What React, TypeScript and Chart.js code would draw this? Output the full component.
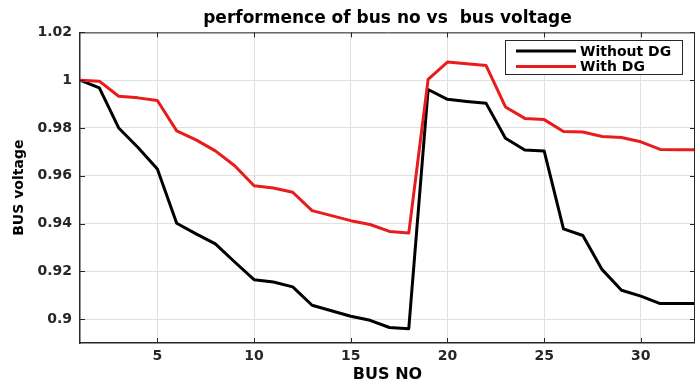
import React, { useEffect, useRef } from "react";
import { Chart, registerables } from "chart.js";

Chart.register(...registerables);

const BUS_NO = [1, 2, 3, 4, 5, 6, 7, 8, 9, 10, 11, 12, 13, 14, 15, 16, 17, 18, 19, 20, 21, 22, 23, 24, 25, 26, 27, 28, 29, 30, 31, 32, 33];
const WITHOUT_DG = [1.0, 0.9968, 0.98, 0.9718, 0.9628, 0.9401, 0.9357, 0.9315, 0.9239, 0.9165, 0.9155, 0.9135, 0.9058, 0.9035, 0.9012, 0.8995, 0.8965, 0.896, 0.9961, 0.992, 0.9911, 0.9903, 0.9757, 0.9708, 0.9704, 0.9378, 0.935, 0.9207, 0.9121, 0.9096, 0.9065, 0.9065, 0.9065];
const WITH_DG = [1.0, 0.9996, 0.9933, 0.9926, 0.9915, 0.9788, 0.975, 0.9704, 0.9642, 0.9558, 0.9549, 0.9531, 0.9454, 0.9433, 0.9412, 0.9396, 0.9367, 0.936, 1.0003, 1.0076, 1.0069, 1.0061, 0.9888, 0.984, 0.9835, 0.9785, 0.9783, 0.9764, 0.976, 0.9742, 0.971, 0.9709, 0.9709];
const X_TICKS = [5, 10, 15, 20, 25, 30];
const Y_TICKS = [0.9, 0.92, 0.94, 0.96, 0.98, 1, 1.02];
const SERIES_LABELS = ["Without DG", "With DG"];
const TITLE = "performence of bus no vs  bus voltage";
const X_TITLE = "BUS NO";
const Y_TITLE = "BUS voltage";

const FONT = "DejaVu Sans";
const AXIS_COLOR = "#262626";
const GRID_COLOR = "#e0e0e0";

const frameAndLegend = {
  id: "frameAndLegend",
  afterDatasetsDraw(chart: any) {
    const { ctx, chartArea: a, scales } = chart;
    const xs = scales.x;
    const ys = scales.y;
    ctx.save();
    ctx.strokeStyle = AXIS_COLOR;
    ctx.lineWidth = 1;
    ctx.beginPath();
    ctx.moveTo(a.left, a.top + 0.5);
    ctx.lineTo(a.right, a.top + 0.5);
    ctx.moveTo(a.right - 0.5, a.top);
    ctx.lineTo(a.right - 0.5, a.bottom);
    const TL = 5;
    for (const t of xs.ticks) {
      const px = Math.round(xs.getPixelForValue(t.value)) + 0.5;
      ctx.moveTo(px, a.bottom);
      ctx.lineTo(px, a.bottom - TL);
      ctx.moveTo(px, a.top);
      ctx.lineTo(px, a.top + TL);
    }
    for (const t of ys.ticks) {
      const py = Math.round(ys.getPixelForValue(t.value)) + 0.5;
      ctx.moveTo(a.left, py);
      ctx.lineTo(a.left + TL, py);
      ctx.moveTo(a.right, py);
      ctx.lineTo(a.right - TL, py);
    }
    ctx.stroke();

    // legend box
    const boxW = 177;
    const boxH = 34;
    const bx = Math.round(a.right - 13 - boxW);
    const by = Math.round(a.top + 8);
    ctx.fillStyle = "#ffffff";
    ctx.fillRect(bx, by, boxW, boxH);
    ctx.strokeStyle = AXIS_COLOR;
    ctx.lineWidth = 1;
    ctx.strokeRect(bx + 0.5, by + 0.5, boxW, boxH);
    ctx.font = `bold 14px "${FONT}"`;
    ctx.textBaseline = "middle";
    ctx.textAlign = "left";
    chart.data.datasets.forEach((ds: any, i: number) => {
      const y = by + 11 + i * 15.5;
      ctx.strokeStyle = ds.borderColor;
      ctx.lineWidth = 2.8;
      ctx.beginPath();
      ctx.moveTo(bx + 11, y);
      ctx.lineTo(bx + 71, y);
      ctx.stroke();
      ctx.fillStyle = "#000";
      ctx.fillText(ds.label, bx + 75, y + 1);
    });
    ctx.restore();
  },
};

export default function App() {
  const canvasRef = useRef<HTMLCanvasElement | null>(null);

  useEffect(() => {
    const canvas = canvasRef.current;
    if (!canvas) return;
    const chart = new Chart(canvas, {
      type: "line",
      data: {
        datasets: [
          {
            label: SERIES_LABELS[0],
            data: BUS_NO.map((x, i) => ({ x, y: WITHOUT_DG[i] })),
            borderColor: "#000000",
            backgroundColor: "#000000",
            borderWidth: 3,
            pointRadius: 0,
            tension: 0,
            borderJoinStyle: "round",
            order: 1,
          },
          {
            label: SERIES_LABELS[1],
            data: BUS_NO.map((x, i) => ({ x, y: WITH_DG[i] })),
            borderColor: "#e81c1c",
            backgroundColor: "#e81c1c",
            borderWidth: 3,
            pointRadius: 0,
            tension: 0,
            borderJoinStyle: "round",
            order: 0,
          },
        ],
      },
      options: {
        responsive: false,
        animation: false,
        devicePixelRatio: 1,
        layout: { padding: 0 },
        plugins: {
          legend: { display: false },
          tooltip: { enabled: false },
          title: {
            display: true,
            text: TITLE,
            color: "#000",
            fullSize: false,
            font: { family: FONT, size: 17, weight: "bold" },
            padding: { top: 8, bottom: 4 },
          },
        },
        scales: {
          x: {
            type: "linear",
            min: 1,
            max: 32.8,
            afterBuildTicks: (s: any) => {
              s.ticks = X_TICKS.map((v) => ({ value: v }));
            },
            afterFit: (s: any) => {
              s.height = 38;
            },
            ticks: {
              color: AXIS_COLOR,
              font: { family: FONT, size: 14, weight: "bold" },
              padding: 5,
              maxRotation: 0,
              callback: (v: any) => String(v),
            },
            grid: { color: GRID_COLOR, drawTicks: false, lineWidth: 1 },
            border: { color: AXIS_COLOR, width: 1.5 },
            title: {
              display: true,
              text: X_TITLE,
              color: "#000",
              font: { family: FONT, size: 16, weight: "bold" },
              padding: { top: 0, bottom: -3 },
            },
          },
          y: {
            min: 0.89,
            max: 1.02,
            afterBuildTicks: (s: any) => {
              s.ticks = Y_TICKS.map((v) => ({ value: v }));
            },
            afterFit: (s: any) => {
              s.width = 80;
            },
            ticks: {
              color: AXIS_COLOR,
              font: { family: FONT, size: 14, weight: "bold" },
              padding: 8,
              callback: (v: any) => String(v),
            },
            grid: { color: GRID_COLOR, drawTicks: false, lineWidth: 1 },
            border: { color: AXIS_COLOR, width: 1.5 },
            title: {
              display: true,
              text: Y_TITLE,
              color: "#000",
              font: { family: FONT, size: 14, weight: "bold" },
              padding: { top: 11, bottom: 0 },
            },
          },
        },
      },
      plugins: [frameAndLegend],
    } as any);
    return () => chart.destroy();
  }, []);

  return (
    <div style={{ position: "absolute", left: 0, top: 0, width: 695, height: 381, background: "#fff" }}>
      <canvas ref={canvasRef} width={695} height={381} style={{ display: "block" }} />
    </div>
  );
}
